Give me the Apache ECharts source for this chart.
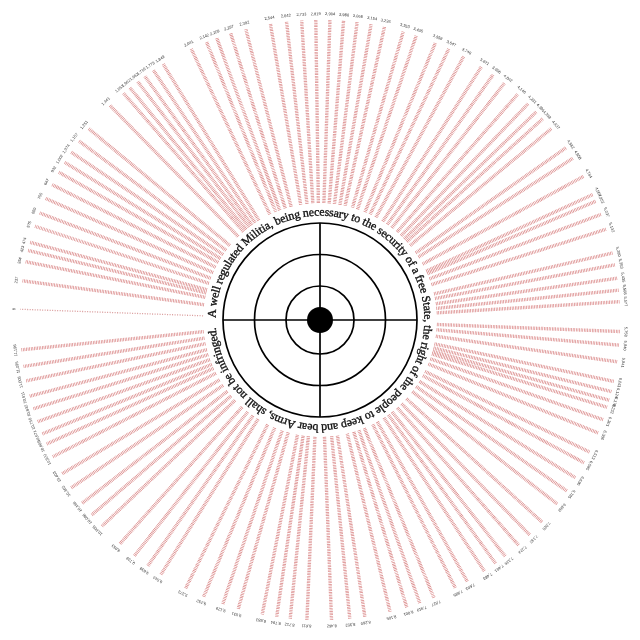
<!DOCTYPE html>
<html>
<head>
<meta charset="utf-8">
<script src="https://cdn.jsdelivr.net/npm/echarts@6/dist/echarts.min.js"></script>
<style>
html,body{margin:0;padding:0;background:#fff;}
#chart{width:640px;height:640px;}
</style>
</head>
<body>
<div id="chart"></div>
<script>
// Position of each spoke around the dial (degrees, clockwise from the 9 o'clock position)
const spokePositions = [2.05, 7.5, 11.2, 13.4, 15.0, 18.2, 20.9, 23.9, 26.8, 29.5, 31.7, 34.0, 36.6, 39.6, 45.6, 49.1, 50.7, 52.6, 54.3, 56.3, 58.5, 64.6, 67.8, 69.9, 72.7, 75.7, 80.5, 83.6, 86.5, 89.2, 91.9, 94.5, 97.1, 99.8, 102.4, 106.1, 108.7, 112.6, 115.4, 118.6, 122.5, 125.2, 127.9, 131.2, 133.9, 136.1, 137.9, 140.4, 145.0, 147.4, 151.4, 155.3, 156.7, 159.4, 162.4, 167.1, 169.4, 172.0, 174.3, 176.5, 182.2, 184.8, 188.0, 191.8, 193.8, 195.5, 196.9, 199.4, 202.1, 206.1, 208.4, 211.7, 214.7, 217.8, 222.3, 225.7, 228.6, 231.9, 234.2, 236.8, 240.6, 243.2, 247.7, 250.6, 253.2, 256.5, 261.4, 264.3, 267.8, 272.5, 275.7, 278.3, 281.1, 285.8, 288.9, 292.8, 296.6, 302.0, 305.0, 308.2, 311.8, 316.6, 319.5, 322.4, 326.0, 329.2, 332.9, 335.6, 337.7, 340.2, 342.8, 345.3, 348.3, 351.1, 354.3];
// Running totals printed at the tip of each spoke
const spokeLabels = ['8','237','354','423','474','575','660','755','847','932','1,002','1,074','1,157','1,251','1,441','1,552','1,602','1,662','1,716','1,779','1,849','2,041','2,142','2,209','2,297','2,392','2,544','2,642','2,733','2,819','2,904','2,986','3,068','3,154','3,236','3,353','3,435','3,558','3,647','3,748','3,871','3,956','4,042','4,146','4,231','4,301','4,358','4,437','4,582','4,658','4,784','4,907','4,952','5,037','5,132','5,280','5,353','5,435','5,508','5,577','5,758','5,840','5,941','6,061','6,124','6,178','6,222','6,301','6,386','6,513','6,585','6,690','6,785','6,882','7,025','7,132','7,224','7,328','7,401','7,483','7,603','7,685','7,827','7,919','8,001','8,105','8,260','8,352','8,462','8,611','8,712','8,794','8,883','9,031','9,129','9,252','9,373','9,543','9,638','9,739','9,853','10,005','10,096','10,188','10,302','10,403','10,520','10,605','10,671','10,750','10,832','10,911','11,006','11,095','11,196'];
const spokeInner = 117;
const spokeOuter = 300;
const ringRadii = [97, 65.5, 34];
const bullRadius = 13;
const amendment = 'A well regulated Militia, being necessary to the security of a free State, the right of the people to keep and bear Arms, shall not be infringed.';

const chart = echarts.init(document.getElementById('chart'), null, {renderer: 'canvas'});
const CX = 320, CY = 320;

// curved text around the target
const textStart = 1.2, textEnd = 356, textBase = 101.5;
const ctx = document.createElement('canvas').getContext('2d');
const family = '"Liberation Serif", "DejaVu Serif", serif';
ctx.font = '12px ' + family;
let natural = 0;
const widths12 = [];
for (const ch of amendment) { const w = ctx.measureText(ch).width; widths12.push(w); natural += w; }
const arcLen = (textEnd - textStart) * Math.PI / 180 * textBase;
const fontSize = Math.min(13.5, 12 * arcLen / natural * 1.06);
const scale = arcLen / natural;
const textGraphics = [];
let acc = 0;
Array.from(amendment).forEach((ch, i) => {
  const w = widths12[i] * scale;
  const mid = acc + w / 2;
  acc += w;
  const phi = textStart + (mid / textBase) * 180 / Math.PI;
  const th = (180 - phi) * Math.PI / 180;
  textGraphics.push({
    type: 'text',
    x: CX + textBase * Math.cos(th),
    y: CY - textBase * Math.sin(th),
    rotation: (90 - phi) * Math.PI / 180,
    style: {text: ch, x: 0, y: 0, align: 'center', verticalAlign: 'bottom', font: fontSize.toFixed(2) + 'px ' + family, fill: '#111', stroke: '#111', lineWidth: 0.35},
    silent: true
  });
});

const targetGraphics = [];
ringRadii.forEach(r => targetGraphics.push({type: 'circle', shape: {cx: CX, cy: CY, r: r}, style: {fill: null, stroke: '#000', lineWidth: 1.7}, silent: true}));
targetGraphics.push({type: 'line', shape: {x1: CX - ringRadii[0], y1: CY, x2: CX + ringRadii[0], y2: CY}, style: {stroke: '#000', lineWidth: 1.7}, silent: true});
targetGraphics.push({type: 'line', shape: {x1: CX, y1: CY - ringRadii[0], x2: CX, y2: CY + ringRadii[0]}, style: {stroke: '#000', lineWidth: 1.7}, silent: true});
targetGraphics.push({type: 'circle', shape: {cx: CX, cy: CY, r: bullRadius}, style: {fill: '#000'}, silent: true});

const option = {
  backgroundColor: '#fff',
  animation: false,
  polar: {center: ['50%', '50%'], radius: [0, spokeOuter]},
  angleAxis: {type: 'value', min: 0, max: 360, startAngle: 180, clockwise: true, show: false},
  radiusAxis: {type: 'value', min: 0, max: spokeOuter, show: false},
  graphic: targetGraphics.concat(textGraphics),
  series: [{
    type: 'custom',
    coordinateSystem: 'polar',
    data: spokePositions.map((p, i) => [spokeOuter, p, spokeLabels[i]]),
    renderItem: function (params, api) {
      const ang = api.value(1);
      const p0 = api.coord([spokeInner, ang]);
      const p1 = api.coord([api.value(0), ang]);
      const pl = api.coord([api.value(0) + 6, ang]);
      const first = params.dataIndex === 0;
      return {
        type: 'group',
        children: [{
          type: 'line',
          shape: {x1: p0[0], y1: p0[1], x2: p1[0], y2: p1[1]},
          style: {stroke: first ? '#d89898' : '#d88282', lineWidth: first ? 1.3 : 3.4, lineDash: first ? [1, 1.5] : [0.7, 0.9]}
        }, {
          type: 'text',
          x: pl[0], y: pl[1],
          rotation: (90 - ang) * Math.PI / 180,
          style: {text: spokeLabels[params.dataIndex], x: 0, y: 0, align: 'center', verticalAlign: 'middle', font: '4px "Liberation Sans", sans-serif', fill: '#333'}
        }]
      };
    }
  }]
};
chart.setOption(option);
</script>
</body>
</html>
